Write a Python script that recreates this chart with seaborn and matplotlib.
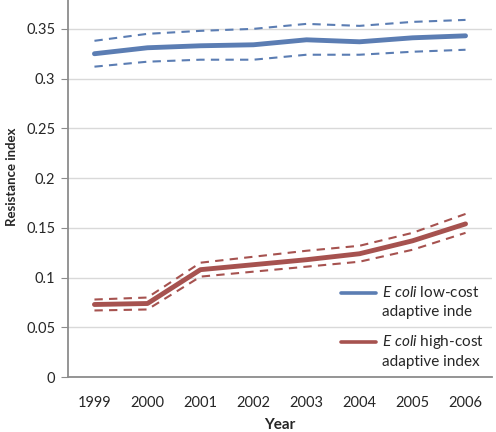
import matplotlib
matplotlib.use("Agg")
import matplotlib.pyplot as plt
import seaborn as sns
import pandas as pd
from matplotlib.legend_handler import HandlerLine2D

# -----------------------------
# data
# -----------------------------
years = [1999, 2000, 2001, 2002, 2003, 2004, 2005, 2006]

low_cost = [0.325, 0.331, 0.333, 0.334, 0.339, 0.337, 0.341, 0.343]
low_cost_upper = [0.338, 0.345, 0.348, 0.350, 0.355, 0.353, 0.357, 0.359]
low_cost_lower = [0.312, 0.317, 0.319, 0.319, 0.324, 0.324, 0.327, 0.329]

high_cost = [0.073, 0.074, 0.108, 0.113, 0.118, 0.124, 0.137, 0.154]
high_cost_upper = [0.078, 0.080, 0.115, 0.121, 0.127, 0.132, 0.145, 0.164]
high_cost_lower = [0.067, 0.068, 0.101, 0.106, 0.111, 0.116, 0.128, 0.145]

y_ticks = [0, 0.05, 0.1, 0.15, 0.2, 0.25, 0.3, 0.35]
y_labels = ["0", "0.05", "0.1", "0.15", "0.2", "0.25", "0.3", "0.35"]

blue = "#5b7db3"
red = "#a6524f"

sns.set_style("white")
plt.rcParams["font.family"] = ["Lato", "DejaVu Sans"]
plt.rcParams["mathtext.fontset"] = "custom"
plt.rcParams["mathtext.rm"] = "Lato"
plt.rcParams["mathtext.it"] = "Lato:italic"

df = pd.DataFrame({"Year": years,
                   "low": low_cost, "low_up": low_cost_upper, "low_lo": low_cost_lower,
                   "high": high_cost, "high_up": high_cost_upper, "high_lo": high_cost_lower})


# legend line sits level with the first text line, like in Excel
class TopLine(HandlerLine2D):
    def create_artists(self, legend, orig_handle, xdescent, ydescent, width,
                       height, fontsize, trans):
        arts = super().create_artists(legend, orig_handle, xdescent, ydescent,
                                      width, height, fontsize, trans)
        for a in arts:
            a.set_ydata([v + 0.62 * fontsize for v in a.get_ydata()])
            a.set_linewidth(2.6)
        return arts


fig = plt.figure(figsize=(4.96, 4.32), dpi=100)
ax = fig.add_axes([0.137, 0.127, 0.855, 0.873])

for col, c in [("low_up", blue), ("low_lo", blue), ("high_up", red), ("high_lo", red)]:
    sns.lineplot(data=df, x="Year", y=col, ax=ax, color=c, lw=1.5, linestyle="--")
for line in ax.lines:
    line.set_dashes((4, 3))

sns.lineplot(data=df, x="Year", y="low", ax=ax, color=blue, lw=3.5,
             label="$\\it{E\\ coli}$ low-cost\nadaptive inde")
sns.lineplot(data=df, x="Year", y="high", ax=ax, color=red, lw=3.5,
             label="$\\it{E\\ coli}$ high-cost\nadaptive index")

ax.set_xlim(1998.5, 2006.5)
ax.set_ylim(0, 0.379)
ax.set_xticks(years)
ax.set_xticklabels([str(y) for y in years])
ax.set_yticks(y_ticks)
ax.set_yticklabels(y_labels)

ax.yaxis.grid(True, color="#d9d9d9", lw=1)
ax.set_axisbelow(True)
for s in ["top", "right"]:
    ax.spines[s].set_visible(False)
for s in ["left", "bottom"]:
    ax.spines[s].set_color("#8c8c8c")
    ax.spines[s].set_linewidth(1.3)

ax.tick_params(axis="y", left=True, length=5, color="#8c8c8c", labelsize=10.5, pad=4)
ax.tick_params(axis="x", bottom=False, labelsize=10.5, pad=10)

ax.set_xlabel("Year", fontsize=11, fontweight="bold", labelpad=6)
ax.set_ylabel("Resistance index", fontsize=9.5, fontweight="bold")
ax.yaxis.set_label_coords(-0.118, 0.53)

handles, labels = ax.get_legend_handles_labels()
leg = ax.legend(handles, labels, loc="lower right", bbox_to_anchor=(1.0, 0.0),
                frameon=False, fontsize=11, handlelength=2.3, handletextpad=0.4,
                labelspacing=0.9, borderaxespad=0.1,
                handler_map={h: TopLine() for h in handles})
for t in leg.get_texts():
    t.set_linespacing(1.45)

fig.savefig("out.png", dpi=100)
plt.close()
